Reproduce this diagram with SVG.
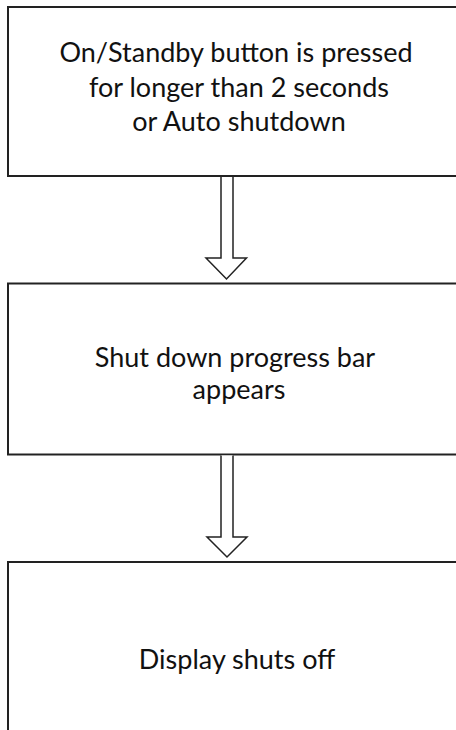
<svg xmlns="http://www.w3.org/2000/svg" width="456" height="730" viewBox="0 0 456 730">
<style>
.box{fill:#fff;stroke:#222;stroke-width:2}
.arrow{fill:#fff;stroke:#222;stroke-width:1.5;stroke-linejoin:miter}
text{font-family:Lato,"Open Sans","Liberation Sans",sans-serif;font-size:27px;fill:#111;text-anchor:middle}
</style>
<rect width="456" height="730" fill="#fff"/>
<g id="node1">
<rect class="box" x="8" y="7" width="460" height="169"/>
<text x="236" y="62">On/Standby button is pressed</text>
<text x="239" y="96.5">for longer than 2 seconds</text>
<text x="239" y="131">or Auto shutdown</text>
</g>
<g id="node2">
<rect class="box" x="8" y="283.5" width="460" height="171"/>
<text x="235" y="367">Shut down progress bar</text>
<text x="239" y="399">appears</text>
</g>
<g id="node3">
<rect class="box" x="8" y="562" width="460" height="180"/>
<text x="237" y="669">Display shuts off</text>
</g>
<g id="connectors">
<path class="arrow" d="M221,177 V258 H206 L226.5,279 L246.5,258 H233 V177"/>
<path class="arrow" d="M221,455.5 V537 H207 L227,557 L247,537 H233 V455.5"/>
</g>
</svg>
